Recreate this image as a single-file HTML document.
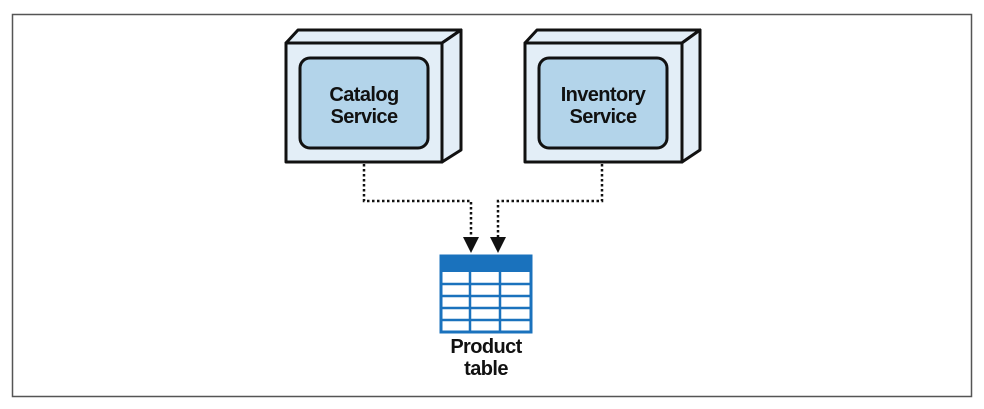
<!DOCTYPE html>
<html><head><meta charset="utf-8"><style>
html,body{margin:0;padding:0;background:#fff;width:984px;height:409px;overflow:hidden}
svg text{font-family:"Liberation Sans",sans-serif;font-weight:bold;fill:#111;text-anchor:middle;letter-spacing:-0.6px}
</style></head><body>
<svg width="984" height="409" viewBox="0 0 984 409" xmlns="http://www.w3.org/2000/svg">
<rect x="12.5" y="14.5" width="959" height="382" fill="none" stroke="#555" stroke-width="1.5"/>
<g stroke="#111" stroke-width="3" stroke-linejoin="round">
<polygon points="286,43 298,30 461,30 442,43" fill="#e3eef7"/>
<polygon points="442,43 461,30 461,150 442,162" fill="#e3eef7"/>
<rect x="286" y="43" width="156" height="119" fill="#e3eef7"/>
<rect x="300" y="58" width="128" height="90" rx="10" fill="#b3d4ea"/>
<polygon points="525,43 537,30 700,30 682,43" fill="#e3eef7"/>
<polygon points="682,43 700,30 700,150 682,162" fill="#e3eef7"/>
<rect x="525" y="43" width="157" height="119" fill="#e3eef7"/>
<rect x="539" y="58" width="128" height="90" rx="10" fill="#b3d4ea"/>
</g>
<text x="364" y="101" font-size="20">Catalog</text>
<text x="364" y="123" font-size="20">Service</text>
<text x="603" y="101" font-size="20">Inventory</text>
<text x="603" y="123" font-size="20">Service</text>
<g fill="none" stroke="#111" stroke-width="2.5" stroke-dasharray="2.5 2.5">
<polyline points="364,164 364,201 471,201 471,238"/>
<polyline points="602,164 602,201 498,201 498,238"/>
</g>
<polygon points="463,237 479,237 471,253" fill="#111"/>
<polygon points="490,237 506,237 498,253" fill="#111"/>
<g>
<rect x="441" y="256" width="90" height="76" fill="#fff" stroke="#1a72bd" stroke-width="3"/>
<rect x="441" y="256" width="90" height="16" fill="#1a72bd"/>
<g stroke="#1a72bd" stroke-width="2.5">
<line x1="441" y1="284" x2="531" y2="284"/>
<line x1="441" y1="296" x2="531" y2="296"/>
<line x1="441" y1="308" x2="531" y2="308"/>
<line x1="441" y1="320" x2="531" y2="320"/>
<line x1="470" y1="272" x2="470" y2="332"/>
<line x1="500" y1="272" x2="500" y2="332"/>
</g>
</g>
<text x="486" y="353" font-size="20">Product</text>
<text x="486" y="375" font-size="20">table</text>
</svg>
</body></html>
